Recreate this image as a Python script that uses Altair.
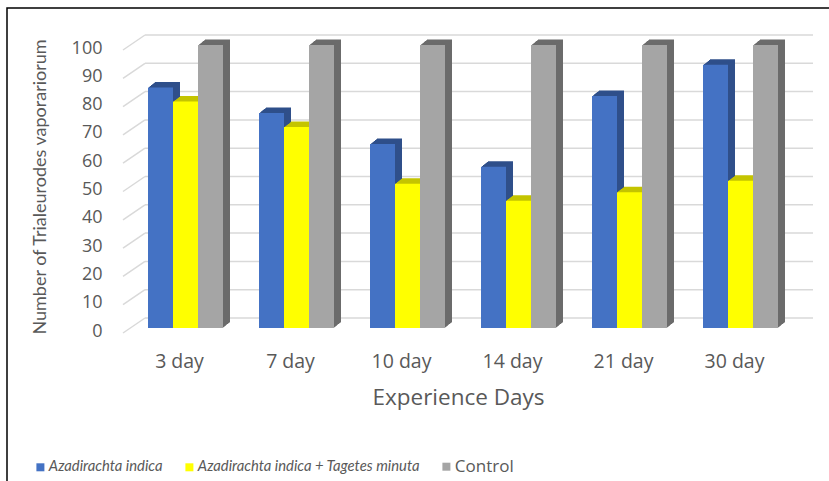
import altair as alt
import pandas as pd

# Whitefly counts per treatment over the experiment
days = ["3 day", "7 day", "10 day", "14 day", "21 day", "30 day"]
series = ["Azadirachta indica", "Azadirachta indica + Tagetes minuta", "Control"]
neem = [85, 76, 65, 57, 82, 93]
neem_tagetes = [80, 71, 51, 45, 48, 52]
control = [100, 100, 100, 100, 100, 100]
y_ticks = list(range(0, 101, 10))

front_colors = ["#4472C4", "#FFFF00", "#A5A5A5"]
depth_colors = ["#2F4F8A", "#C4C400", "#6B6B6B"]
grid_color = "#D9D9D9"
text_color = "#595959"
font = "Open Sans"

rows = []
for name, vals in zip(series, [neem, neem_tagetes, control]):
    for d, v in zip(days, vals):
        rows.append({"day": d, "series": name, "value": v})
bars = pd.DataFrame(rows)
ticks = pd.DataFrame({"tick": y_ticks})

W, H = 666, 283
STEP = W / len(days)
GROUP = 75                      # width of one cluster of three bars
PAD_IN = (STEP - GROUP) / STEP
DX, DY = 7, 5.5                 # bar depth
LAYERS = 7                      # extrusion steps for the bar depth
WALL = 10                       # back wall offset

x_enc = alt.X(
    "day:N", sort=days, title="Experience Days",
    scale=alt.Scale(paddingInner=PAD_IN, paddingOuter=PAD_IN / 2),
    axis=alt.Axis(domain=False, ticks=False, labelAngle=0, labelPadding=24,
                  labelOffset=-6, labelFontSize=19.5, labelColor=text_color,
                  labelFont=font, titleFont=font, titleFontSize=22.5,
                  titleFontWeight="normal", titleColor=text_color,
                  titlePadding=16, titleX=W / 2 - 5),
)
y_scale = alt.Scale(domain=[0, 100], nice=False, zero=True)
y_axis = alt.Axis(values=y_ticks, domain=False, ticks=False, grid=False,
                  labelPadding=28, labelOffset=3, labelFontSize=18,
                  labelColor=text_color, labelFont=font, titleFont="Lato",
                  titleFontSize=18, titleFontWeight="normal",
                  titleColor=text_color, titlePadding=22)
y_title = "Number of Trialeurodes vaporariorum"


def xo(shift=0.0):
    return alt.XOffset("series:N",
                       scale=alt.Scale(domain=series, range=[shift, GROUP + shift],
                                       paddingInner=0, paddingOuter=0))


def y_val():
    return alt.Y("value:Q", scale=y_scale, axis=y_axis, title=y_title)


grid_back = alt.Chart(ticks).mark_rule(color=grid_color, strokeWidth=1.5, yOffset=-WALL).encode(
    y=alt.Y("tick:Q", scale=y_scale, axis=y_axis, title=y_title),
    x=alt.value(15), x2=alt.value(W + 17),
)
grid_slant = alt.Chart(ticks).mark_rule(color=grid_color, strokeWidth=1.5,
                                        yOffset=5, y2Offset=-WALL).encode(
    y=alt.Y("tick:Q", scale=y_scale, axis=y_axis, title=y_title),
    y2="tick:Q",
    x=alt.value(-7), x2=alt.value(15),
)

legend = alt.Legend(
    orient="none", legendX=-97, legendY=414, direction="horizontal",
    title=None, symbolType="square", symbolSize=64, symbolStrokeWidth=0,
    labelFont={"expr": "datum.label == 'Control' ? 'Open Sans' : 'Lato'"},
    labelFontSize={"expr": "datum.label == 'Control' ? 17 : 14.8"},
    labelFontStyle={"expr": "datum.label == 'Control' ? 'normal' : 'italic'"},
    labelColor=text_color, labelLimit=500,
    columnPadding=19, labelOffset=1, padding=0,
)

# Each series is drawn left to right: its extruded depth (copies of the bar
# stepped back along the diagonal) and then its front face on top.
bar_layers = []
for i, name in enumerate(series):
    subset = alt.Chart(bars).transform_filter(alt.datum.series == name)
    for k in range(LAYERS, 0, -1):
        dx, dy = DX * k / LAYERS, DY * k / LAYERS
        bar_layers.append(
            subset.mark_bar(yOffset=-dy, y2Offset=-dy, color=depth_colors[i]).encode(
                x=x_enc, xOffset=xo(dx), y=y_val(),
            )
        )
    bar_layers.append(
        subset.mark_bar().encode(
            x=x_enc, xOffset=xo(), y=y_val(),
            color=alt.Color("series:N",
                            scale=alt.Scale(domain=series, range=front_colors),
                            legend=legend if i == 0 else None),
        )
    )

frame = alt.Chart(pd.DataFrame({"frame": [0]})).mark_rect(
    fill=None, stroke="black", strokeWidth=1.5
).encode(x=alt.value(-123), x2=alt.value(W + 100), y=alt.value(-37), y2=alt.value(H + 200))

chart = alt.layer(grid_back, grid_slant, *bar_layers, frame).resolve_scale(
    xOffset="independent"
).properties(
    width=W, height=H,
    padding={"left": 130, "top": 45, "right": 829 - 130 - W, "bottom": 481 - 45 - H},
    autosize=alt.AutoSizeParams(type="none"),
    background="white",
).configure_view(stroke=None)

chart.save("out.html", embed_options={"renderer": "svg", "actions": False})
